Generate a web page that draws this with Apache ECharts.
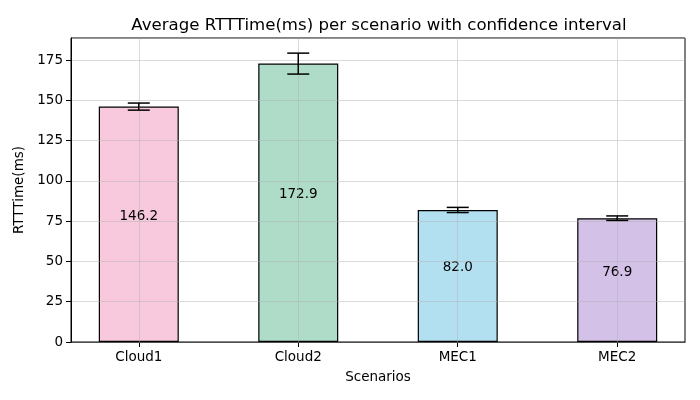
<!DOCTYPE html>
<html>
<head>
<meta charset="utf-8">
<script src="https://cdn.jsdelivr.net/npm/echarts@6/dist/echarts.min.js"></script>
<style>
  html, body { margin: 0; padding: 0; background: #fff; }
  #main { width: 700px; height: 400px; }
</style>
</head>
<body>
<div id="main"></div>
<script>
// scenario data
var scenarios = ['Cloud1', 'Cloud2', 'MEC1', 'MEC2'];
var meanRtt = [146.2, 172.9, 82.0, 76.9];
var ciHalf = [2.2, 6.5, 1.6, 1.4];
var barColors = ['#f8c8dc', '#aedcc8', '#b2e0f0', '#d4c1e7'];
var yTicks = [0, 25, 50, 75, 100, 125, 150, 175];

var font = 'DejaVu Sans';
var gridColor = 'rgba(176,176,176,0.45)';

var chart = echarts.init(document.getElementById('main'));

var barData = scenarios.map(function(name, i) {
	return {
		value : [ i, meanRtt[i] ],
		itemStyle : { color : barColors[i] }
	};
});

var errData = scenarios.map(function(name, i) {
	return [ i, meanRtt[i] - ciHalf[i], meanRtt[i] + ciHalf[i] ];
});

var option = {
	animation : false,
	textStyle : { fontFamily : font },
	title : {
		text : 'Average RTTTime(ms) per scenario with confidence interval',
		left : 374,
		textAlign : 'center',
		top : 12,
		textStyle : { fontFamily : font, fontSize : 16.6, fontWeight : 'normal', color : '#000' }
	},
	grid : {
		left : 71, right : 15, top : 38, bottom : 58,
		show : true, borderColor : '#000', borderWidth : 1
	},
	xAxis : {
		type : 'value',
		min : -0.425,
		max : 3.425,
		name : 'Scenarios',
		nameLocation : 'middle',
		nameGap : 28,
		nameTextStyle : { fontFamily : font, fontSize : 13.5, color : '#000' },
		axisLine : { show : true, onZero : false, lineStyle : { color : '#000' } },
		axisTick : { show : true, customValues : [0, 1, 2, 3], length : 5, lineStyle : { color : '#000' } },
		axisLabel : {
			customValues : [0, 1, 2, 3],
			fontFamily : font, fontSize : 13.5, color : '#000', margin : 8,
			formatter : function(v) { return scenarios[Math.round(v)]; }
		},
		splitLine : { show : false }
	},
	yAxis : {
		type : 'value',
		min : 0,
		max : 188.8,
		interval : 25,
		z : 3,
		name : 'RTTTime(ms)',
		nameLocation : 'middle',
		nameGap : 35,
		nameRotate : 90,
		nameTextStyle : { fontFamily : font, fontSize : 13.5, color : '#000' },
		axisLine : { show : true, onZero : false, lineStyle : { color : '#000' } },
		axisTick : { show : true, length : 5, lineStyle : { color : '#000' } },
		axisLabel : {
			fontFamily : font, fontSize : 13.5, color : '#000', margin : 8,
			showMaxLabel : false
		},
		splitLine : { show : true, lineStyle : { color : gridColor, width : 1 } }
	},
	series : [ {
		type : 'bar',
		data : barData,
		barWidth : 80,
		itemStyle : { borderColor : '#000', borderWidth : 1.2 },
		label : {
			show : true,
			position : 'inside',
			offset : [ 0, -8 ],
			fontFamily : font,
			fontSize : 13.5,
			color : '#000',
			formatter : function(p) { return p.value[1].toFixed(1); }
		},
		markLine : {
			silent : true,
			symbol : 'none',
			label : { show : false },
			lineStyle : { color : gridColor, width : 1, type : 'solid' },
			data : [ { xAxis : 0 }, { xAxis : 1 }, { xAxis : 2 }, { xAxis : 3 } ]
		}
	}, {
		type : 'custom',
		z : 10,
		data : errData,
		renderItem : function(params, api) {
			var x = api.value(0);
			var lo = api.coord([ x, api.value(1) ]);
			var hi = api.coord([ x, api.value(2) ]);
			var half = 11;
			var style = { stroke : '#000', lineWidth : 1.5 };
			return {
				type : 'group',
				children : [
					{ type : 'line', shape : { x1 : lo[0], y1 : lo[1], x2 : hi[0], y2 : hi[1] }, style : style },
					{ type : 'line', shape : { x1 : lo[0] - half, y1 : lo[1], x2 : lo[0] + half, y2 : lo[1] }, style : style },
					{ type : 'line', shape : { x1 : hi[0] - half, y1 : hi[1], x2 : hi[0] + half, y2 : hi[1] }, style : style }
				]
			};
		}
	} ]
};

chart.setOption(option);
</script>
</body>
</html>
